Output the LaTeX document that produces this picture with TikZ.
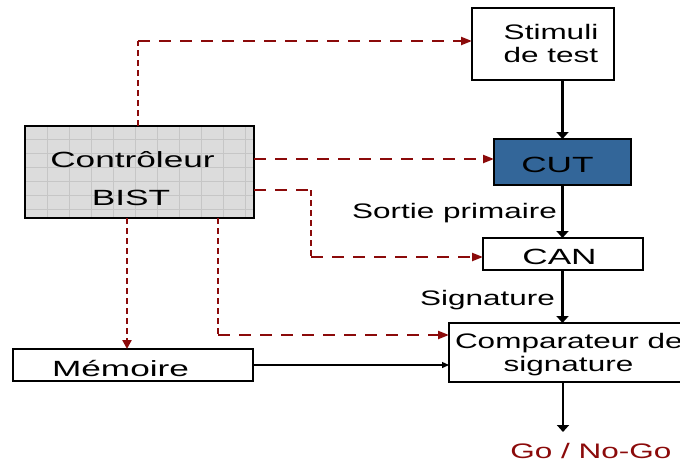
\documentclass[tikz,border=0pt]{standalone}
\usepackage{fontspec}
\setmainfont{Liberation Sans}
\usepackage{graphicx}
\usetikzlibrary{arrows.meta}
\definecolor{dred}{HTML}{8B0A0A}
\definecolor{cutblue}{HTML}{336699}
\definecolor{ctrlfill}{HTML}{DCDCDC}
\definecolor{gridc}{HTML}{C6C6C6}
\newcommand\wt[1]{\scalebox{1.5}[1]{#1}}
\newcommand\wtb[1]{{\fontsize{22}{24}\selectfont\scalebox{1.6}[1]{#1}}}
\begin{document}
\begin{tikzpicture}[x=1pt, y=-1pt,
  font=\fontsize{21}{23}\selectfont,
  box/.style={draw, inner sep=0pt, outer sep=0pt, line width=1.3pt},
  txt/.style={anchor=base, inner sep=0pt, outer sep=0pt},
  blk/.style={line width=2.8pt, -{Triangle[length=7pt,width=12pt]}},
  hd/.style={dred, line width=2.2pt, dash pattern=on 12pt off 9pt},
  vd/.style={dred, line width=2.6pt, dash pattern=on 6pt off 4pt},
  rtip/.style={-{Triangle[length=11pt,width=8pt]}},
  vtip/.style={-{Triangle[length=9pt,width=9pt]}}]
\useasboundingbox (0,0) rectangle (680,461);
\clip (0,0) rectangle (680,461);

% boxes
\node[box, minimum width=142pt, minimum height=72pt] (stim) at (543,44) {};
\node[box, fill=cutblue, minimum width=137pt, minimum height=46pt] (cut) at (562.5,162) {};
\node[fill=ctrlfill, inner sep=0pt, outer sep=0pt, minimum width=229pt, minimum height=92pt] (ctrl) at (139.5,172) {};
\begin{scope}
  \clip (ctrl.north west) rectangle (ctrl.south east);
  \foreach \x in {47,69,...,254} \draw[gridc, line width=0.7pt] (\x,120) -- (\x,224);
  \foreach \y in {139,153,...,218} \draw[gridc, line width=0.7pt] (20,\y) -- (260,\y);
\end{scope}
\draw[line width=2pt] (ctrl.north west) rectangle (ctrl.south east);
\node[box, minimum width=160pt, minimum height=32pt] (can) at (563,254) {};
\node[box, minimum width=251pt, minimum height=59pt] (cmp) at (574.5,352.5) {};
\node[box, minimum width=240pt, minimum height=32pt] (mem) at (133,365) {};

% texts
\node[txt] (t-stim1) at (551,39) {\wt{Stimuli}};
\node[txt] (t-stim2) at (551,62) {\wt{de test}};
\node[txt] (t-cut) at (557.5,172) {\wtb{CUT}};
\node[txt] (t-ctrl1) at (132.5,167) {\wtb{Contrôleur}};
\node[txt] (t-ctrl2) at (131,205) {\wtb{BIST}};
\node[txt] (t-sortie) at (454.5,218) {\wt{Sortie primaire}};
\node[txt] (t-can) at (559.5,264) {\wtb{CAN}};
\node[txt] (t-sig) at (487.5,305) {\wt{Signature}};
\node[txt, anchor=base west] (t-cmp1) at (455,348) {\wt{Comparateur de}};
\node[txt] (t-cmp2) at (568.5,371) {\wt{signature}};
\node[txt] (t-mem) at (120.5,376) {\wtb{Mémoire}};
\node[txt, text=dred] (t-go) at (591,458) {\wt{Go / No-Go}};

% solid connectors
\draw[blk] (cut.north |- stim.south) -- (cut.north);
\draw[blk] (cut.south) -- (cut.south |- can.north);
\draw[blk] (cut.south |- can.south) -- (cut.south |- cmp.north);
\coordinate (goend) at (563,432);
\draw[blk] (goend |- cmp.south) -- (goend);
\draw[line width=1.3pt, -{Triangle[length=7pt,width=6pt]}] (mem.east) -- (mem.east -| cmp.west);

% dashed connectors
\coordinate (a1) at (138,41);
\draw[vd] (ctrl.north -| a1) -- (a1);
\draw[hd, rtip] (a1) -- (a1 -| stim.west);

\coordinate (b1) at (0,159);
\draw[hd, rtip] (ctrl.east |- b1) -- (cut.west |- b1);

\coordinate (c1) at (311,190);
\coordinate (c2) at (311,257);
\draw[hd] (ctrl.east |- c1) -- (c1);
\draw[vd] (c1) -- (c2);
\draw[hd, rtip] (c2) -- (can.west |- c2);

\coordinate (d1) at (127,0);
\draw[vd, vtip] (ctrl.south -| d1) -- (mem.north -| d1);

\coordinate (e1) at (218,335);
\draw[vd] (ctrl.south -| e1) -- (e1);
\draw[hd, rtip] (e1) -- (cmp.west |- e1);
\end{tikzpicture}
\end{document}
